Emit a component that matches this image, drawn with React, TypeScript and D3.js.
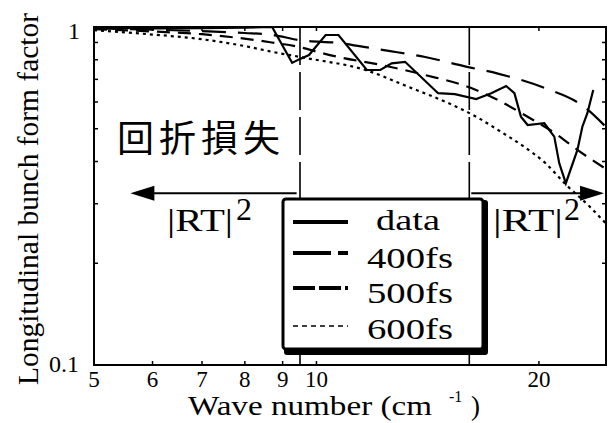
import React from "react"
import * as d3 from "d3"

// measured form factor (solid line)
const dataWave = [5, 6, 7, 8, 8.71, 9.27, 9.47, 9.77, 10.29, 10.71, 11.7, 12.2, 12.64, 13.18, 14.61, 15.39, 16.45, 17.24, 18.06, 18.53, 18.91, 19.31, 20.34, 20.98, 21.31, 21.75, 22.55, 22.9, 23.26, 23.69]
const dataFF = [0.995, 0.99, 0.992, 0.995, 1.0, 0.783, 0.802, 0.826, 0.947, 0.947, 0.746, 0.746, 0.781, 0.789, 0.637, 0.633, 0.612, 0.637, 0.669, 0.637, 0.543, 0.513, 0.519, 0.474, 0.395, 0.345, 0.433, 0.507, 0.556, 0.651]

// gaussian bunch models
const fs400Wave = [5, 6, 7, 8, 8.7, 9.47, 10.81, 11.65, 12.52, 14.03, 15.88, 17.6, 20.36, 23.04, 24.65]
const fs400FF = [0.99, 0.982, 0.972, 0.96, 0.948, 0.915, 0.895, 0.872, 0.85, 0.815, 0.765, 0.728, 0.66, 0.58, 0.506]

const fs500Wave = [5, 6, 7, 8.7, 9.47, 10.05, 10.71, 12.24, 14.03, 16.2, 17.6, 19.13, 21.2, 22.55, 24.65]
const fs500FF = [0.985, 0.97, 0.952, 0.9, 0.873, 0.843, 0.815, 0.772, 0.721, 0.66, 0.608, 0.549, 0.479, 0.433, 0.38]

const fs600Wave = [5, 6, 7, 8, 8.7, 9.66, 11.65, 13.32, 15.07, 16.54, 17.6, 19.13, 20.4, 21.66, 23.47, 24.65]
const fs600FF = [0.978, 0.95, 0.92, 0.878, 0.845, 0.81, 0.746, 0.665, 0.596, 0.539, 0.496, 0.441, 0.396, 0.345, 0.293, 0.262]

const xTicks = [5, 6, 7, 8, 9, 10, 20]
const yTicks = [0.1, 0.2, 0.3, 0.4, 0.5, 0.6, 0.7, 0.8, 0.9, 1]
const yTickLabels = [0.1, 1]

// |RT|^2 region boundaries and arrow ends (wave number)
const cutLow = 9.5
const cutHigh = 16.1
const leftArrow = [9.4, 5.6]
const rightArrow = [16.2, 24.5]
const arrowFF = 0.322

const legendItems = ["data", "400fs", "500fs", "600fs"]

const serif = "Liberation Serif, Times New Roman, serif"

export default function App() {
  const W = 609, H = 423
  const left = 94, right = 606, top = 27, bottom = 365

  const x = d3.scaleLog().domain([5, 24.65]).range([left, right])
  const y = d3.scaleLog().domain([0.1, 1]).range([bottom, top])

  const pts = (xs: number[], ys: number[]) => xs.map((v, i) => [v, ys[i]] as [number, number])
  const straight = d3.line<[number, number]>().x(d => x(d[0])).y(d => y(d[1]))
  const smooth = d3.line<[number, number]>().x(d => x(d[0])).y(d => y(d[1])).curve(d3.curveMonotoneX)

  const series = [
    { path: straight(pts(dataWave, dataFF)), dash: "none", w: 2.2 },
    { path: smooth(pts(fs400Wave, fs400FF)), dash: "24,12", w: 2.2 },
    { path: smooth(pts(fs500Wave, fs500FF)), dash: "13,8", w: 2.2 },
    { path: smooth(pts(fs600Wave, fs600FF)), dash: "3,4", w: 2.2 },
  ]

  const legendStyle = [
    { dash: "none", w: 4 },
    { dash: "38,7", w: 4 },
    { dash: "22,4", w: 4 },
    { dash: "5,4", w: 1.5 },
  ]
  const legendY = [222, 253, 288, 326]
  const legendBase = [230, 268, 303, 339]
  const legendLen = [64, 86, 86, 86]
  const legendX = [376, 367, 367, 367]

  const ay = y(arrowFF)

  return (
    <svg width={W} height={H} style={{ position: "absolute", left: 0, top: 0, background: "#fff" }}
      fontFamily={serif}>
      <defs>
        <clipPath id="plot">
          <rect x={left} y={top} width={right - left} height={bottom - top} />
        </clipPath>
      </defs>

      {/* cut-off lines */}
      {[cutLow, cutHigh].map(c => (
        <line key={c} x1={x(c)} x2={x(c)} y1={top} y2={bottom} stroke="#000"
          strokeWidth={1.6} strokeDasharray="38,7" />
      ))}

      <g clipPath="url(#plot)" fill="none" stroke="#000">
        {series.map((s, i) => (
          <path key={i} d={s.path || ""} strokeWidth={s.w} strokeDasharray={s.dash} />
        ))}
      </g>

      {/* frame */}
      <rect x={left} y={top} width={right - left} height={bottom - top} fill="none" stroke="#000" strokeWidth={2} />

      {/* ticks */}
      {xTicks.slice(1).map(t => (
        <g key={t} stroke="#000" strokeWidth={1.5}>
          <line x1={x(t)} x2={x(t)} y1={bottom} y2={bottom - 4} />
          <line x1={x(t)} x2={x(t)} y1={top} y2={top + 4} />
        </g>
      ))}
      {yTicks.slice(1, -1).map(t => (
        <g key={t} stroke="#000" strokeWidth={1.5}>
          <line x1={left} x2={left + 4} y1={y(t)} y2={y(t)} />
          <line x1={right} x2={right - 4} y1={y(t)} y2={y(t)} />
        </g>
      ))}
      {xTicks.map(t => (
        <text key={t} x={x(t)} y={387} fontSize={23} textAnchor="middle">{t}</text>
      ))}
      {yTickLabels.map(t => (
        <text key={t} x={t === 1 ? 80 : 79} y={t === 1 ? 39 : 372} fontSize={24} textAnchor="end">{t}</text>
      ))}

      {/* axis titles */}
      <text transform="translate(38,199) rotate(-90)" fontSize={29} textAnchor="middle"
        textLength={372} lengthAdjust="spacingAndGlyphs">Longitudinal bunch form factor</text>
      <text x={188} y={415} fontSize={27} textLength={244} lengthAdjust="spacingAndGlyphs">Wave number (cm</text>
      <text x={449} y={402} fontSize={16}>-1</text>
      <text x={471} y={415} fontSize={27}>)</text>

      {/* annotation */}
      <text x={117} y={152} fontSize={37} letterSpacing={5} fontFamily="Noto Sans CJK JP, sans-serif">回折損失</text>

      {/* arrows */}
      <g stroke="#000" strokeWidth={2}>
        <line x1={x(leftArrow[0])} x2={x(leftArrow[1]) + 18} y1={ay} y2={ay} />
        <line x1={x(rightArrow[0])} x2={x(rightArrow[1]) - 18} y1={ay} y2={ay} />
      </g>
      <path d={`M${x(leftArrow[1])},${ay} l24,-7.5 l0,15 z`} fill="#000" />
      <path d={`M${x(rightArrow[1])},${ay} l-24,-7.5 l0,15 z`} fill="#000" />

      <text x={167} y={231} fontSize={32} textLength={66} lengthAdjust="spacingAndGlyphs">|RT|</text>
      <text x={236} y={220} fontSize={32}>2</text>
      <text x={493} y={231} fontSize={32} textLength={70} lengthAdjust="spacingAndGlyphs">|RT|</text>
      <text x={564} y={220} fontSize={32}>2</text>

      {/* legend */}
      <rect x={284} y={200} width={204} height={155} rx={3} fill="#000" />
      <rect x={283} y={199} width={200} height={150} rx={3} fill="#fff" stroke="#000" strokeWidth={3} />
      {legendItems.map((name, i) => (
        <g key={name}>
          <line x1={293} x2={348} y1={legendY[i]} y2={legendY[i]} stroke="#000"
            strokeWidth={legendStyle[i].w} strokeDasharray={legendStyle[i].dash} />
          <text x={legendX[i]} y={legendBase[i]} fontSize={30} textLength={legendLen[i]}
            lengthAdjust="spacingAndGlyphs">{name}</text>
        </g>
      ))}
    </svg>
  )
}
